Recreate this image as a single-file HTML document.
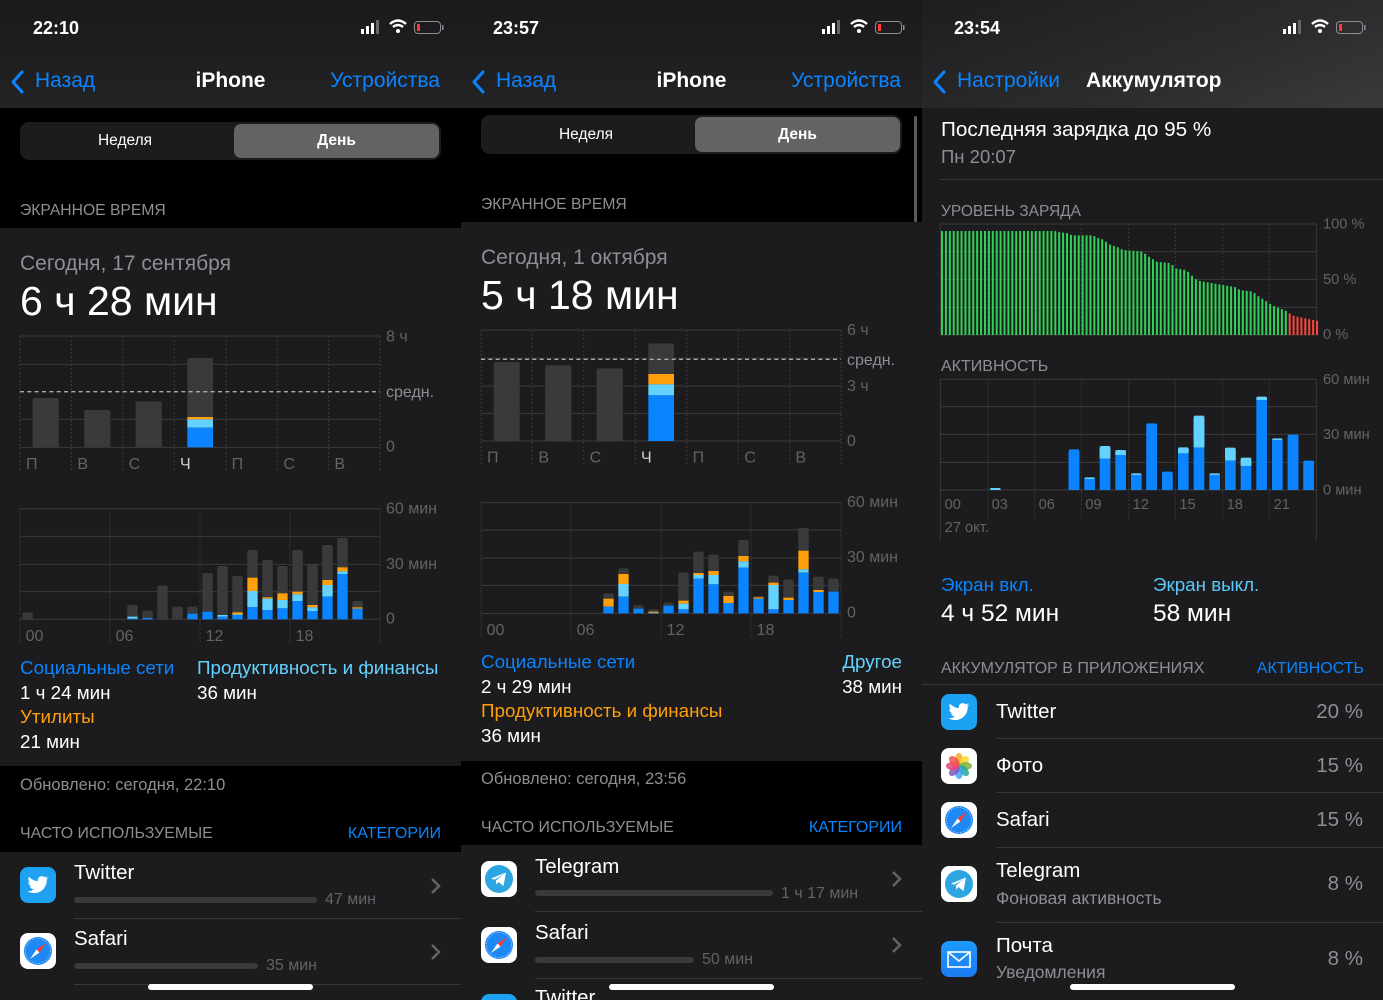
<!DOCTYPE html>
<html><head><meta charset="utf-8">
<style>
*{margin:0;padding:0;box-sizing:border-box}
body{width:1383px;height:1000px;overflow:hidden;background:#000;font-family:"Liberation Sans",sans-serif;color:#fff;position:relative}
.p{position:absolute;top:0;height:1000px;width:461px;overflow:hidden;background:#000}
.a{position:absolute;white-space:nowrap;line-height:1}
.g{color:#8e8e93}.b{color:#0a84ff}.lb{color:#64d2ff}.o{color:#ff9f0a}
.box{position:absolute}
svg text{font-family:"Liberation Sans",sans-serif}
</style></head><body>

<!-- PANEL 1 -->
<div class="p" style="left:0">
  <div class="box" style="left:0;top:0;width:461px;height:108px;background:linear-gradient(#1a1a1c,#232325)"></div>
  <div class="a" style="left:33px;top:19px;font-size:18px;font-weight:bold">22:10</div>
  <svg class="box" style="left:358px;top:18px" width="90" height="20" viewBox="0 0 90 20">
    <rect x="3" y="11" width="3" height="5" fill="#fff"/><rect x="8" y="8" width="3" height="8" fill="#fff"/><rect x="13" y="5" width="3" height="11" fill="#fff"/><rect x="18" y="2" width="3" height="14" fill="#666"/>
    <path d="M32 6 Q40 -1 48 6" stroke="#fff" stroke-width="2.4" fill="none"/><path d="M35 9 Q40 5 45 9" stroke="#fff" stroke-width="2.4" fill="none"/><circle cx="40" cy="13" r="2" fill="#fff"/>
    <rect x="56.5" y="3.5" width="26" height="12" rx="3.5" fill="none" stroke="#8e8e93"/><rect x="59" y="6" width="3" height="7" fill="#ff3b30"/><rect x="84" y="7" width="1.5" height="5" fill="#8e8e93"/>
  </svg>
  <svg class="box" style="left:10px;top:70px" width="16" height="24"><polyline points="12,2 3,12 12,22" stroke="#0a84ff" stroke-width="3" fill="none" stroke-linecap="round" stroke-linejoin="round"/></svg>
  <div class="a b" style="left:35px;top:70px;font-size:21px">Назад</div>
  <div class="a" style="left:0;width:461px;text-align:center;top:70px;font-size:21px;font-weight:bold">iPhone</div>
  <div class="a b" style="right:21px;top:70px;font-size:21px">Устройства</div>
  <div class="box" style="left:20px;top:122px;width:421px;height:38px;background:#1c1c1e;border-radius:9px"></div>
  <div class="box" style="left:234px;top:124px;width:205px;height:34px;background:#636366;border-radius:7px"></div>
  <div class="a" style="left:20px;width:210px;text-align:center;top:133px;font-size:15.5px">Неделя</div>
  <div class="a" style="left:234px;width:205px;text-align:center;top:133px;font-size:15.5px;font-weight:bold">День</div>
  <div class="a g" style="left:20px;top:203px;font-size:15.7px">ЭКРАННОЕ ВРЕМЯ</div>
  <div class="box" style="left:0;top:228px;width:461px;height:538px;background:#1c1c1e"></div>
  <div class="a g" style="left:20px;top:253px;font-size:21px">Сегодня, 17 сентября</div>
  <div class="a" style="left:20px;top:281px;font-size:41px">6 ч 28 мин</div>
  <svg class="box" style="left:0;top:330px" width="461" height="320" viewBox="0 0 1383 960" font-size="48" fill="#636366">
    <g id="c1"></g>
    <text x="1158" y="22" dominant-baseline="middle">8 ч</text>
    <text x="1158" y="188" dominant-baseline="middle" fill="#8e8e93">средн.</text>
    <text x="1158" y="352" dominant-baseline="middle">0</text>
    <text x="78" y="405" dominant-baseline="middle">П</text><text x="232" y="405" dominant-baseline="middle">В</text><text x="386" y="405" dominant-baseline="middle">С</text><text x="540" y="405" dominant-baseline="middle" fill="#d0d0d0">Ч</text><text x="695" y="405" dominant-baseline="middle">П</text><text x="850" y="405" dominant-baseline="middle">С</text><text x="1003" y="405" dominant-baseline="middle">В</text>
    <text x="1158" y="538" dominant-baseline="middle">60 мин</text>
    <text x="1158" y="704" dominant-baseline="middle">30 мин</text>
    <text x="1158" y="868" dominant-baseline="middle">0</text>
    <text x="77" y="920" dominant-baseline="middle">00</text><text x="347" y="920" dominant-baseline="middle">06</text><text x="617" y="920" dominant-baseline="middle">12</text><text x="887" y="920" dominant-baseline="middle">18</text>
  </svg>
  <div class="a b" style="left:20px;top:659px;font-size:18.8px">Социальные сети</div>
  <div class="a lb" style="left:197px;top:659px;font-size:18.8px">Продуктивность и финансы</div>
  <div class="a" style="left:20px;top:684px;font-size:18.8px">1 ч 24 мин</div>
  <div class="a" style="left:197px;top:684px;font-size:18.8px">36 мин</div>
  <div class="a o" style="left:20px;top:708px;font-size:18.8px">Утилиты</div>
  <div class="a" style="left:20px;top:733px;font-size:18.8px">21 мин</div>
  <div class="a g" style="left:20px;top:777px;font-size:16.5px">Обновлено: сегодня, 22:10</div>
  <div class="a g" style="left:20px;top:826px;font-size:15.9px">ЧАСТО ИСПОЛЬЗУЕМЫЕ</div>
  <div class="a b" style="right:20px;top:826px;font-size:16px">КАТЕГОРИИ</div>
  <div class="box" style="left:0;top:852px;width:461px;height:148px;background:#1c1c1e"></div>
  <div class="box ic" data-i="tw" style="left:20px;top:867px"></div>
  <div class="a" style="left:74px;top:863px;font-size:20.5px">Twitter</div>
  <div class="box" style="left:74px;top:897px;width:243px;height:6px;border-radius:3px;background:#3a3a3c"></div>
  <div class="a" style="left:325px;top:892px;font-size:16px;color:#636366">47 мин</div>
  <div class="box" style="left:74px;top:918px;width:387px;height:1px;background:#38383a"></div>
  <div class="box ic" data-i="sf" style="left:20px;top:933px"></div>
  <div class="a" style="left:74px;top:929px;font-size:20.5px">Safari</div>
  <div class="box" style="left:74px;top:963px;width:184px;height:6px;border-radius:3px;background:#3a3a3c"></div>
  <div class="a" style="left:266px;top:958px;font-size:16px;color:#636366">35 мин</div>
  <div class="box" style="left:74px;top:984px;width:387px;height:1px;background:#38383a"></div>
  <svg class="box chev" style="left:430px;top:877px" width="12" height="18"><polyline points="2,2 9,9 2,16" stroke="#636366" stroke-width="2.5" fill="none"/></svg>
  <svg class="box chev" style="left:430px;top:943px" width="12" height="18"><polyline points="2,2 9,9 2,16" stroke="#636366" stroke-width="2.5" fill="none"/></svg>
  <div class="box" style="left:148px;top:984px;width:165px;height:6px;border-radius:3px;background:#fff"></div>
</div>

<!-- PANEL 2 -->
<div class="p" style="left:461px">
  <div class="box" style="left:0;top:0;width:461px;height:108px;background:linear-gradient(#1a1a1c,#232325)"></div>
  <div class="a" style="left:32px;top:19px;font-size:18px;font-weight:bold">23:57</div>
  <svg class="box" style="left:358px;top:18px" width="90" height="20" viewBox="0 0 90 20">
    <rect x="3" y="11" width="3" height="5" fill="#fff"/><rect x="8" y="8" width="3" height="8" fill="#fff"/><rect x="13" y="5" width="3" height="11" fill="#fff"/><rect x="18" y="2" width="3" height="14" fill="#666"/>
    <path d="M32 6 Q40 -1 48 6" stroke="#fff" stroke-width="2.4" fill="none"/><path d="M35 9 Q40 5 45 9" stroke="#fff" stroke-width="2.4" fill="none"/><circle cx="40" cy="13" r="2" fill="#fff"/>
    <rect x="56.5" y="3.5" width="26" height="12" rx="3.5" fill="none" stroke="#8e8e93"/><rect x="59" y="6" width="3" height="7" fill="#ff3b30"/><rect x="84" y="7" width="1.5" height="5" fill="#8e8e93"/>
  </svg>
  <svg class="box" style="left:10px;top:70px" width="16" height="24"><polyline points="12,2 3,12 12,22" stroke="#0a84ff" stroke-width="3" fill="none" stroke-linecap="round" stroke-linejoin="round"/></svg>
  <div class="a b" style="left:35px;top:70px;font-size:21px">Назад</div>
  <div class="a" style="left:0;width:461px;text-align:center;top:70px;font-size:21px;font-weight:bold">iPhone</div>
  <div class="a b" style="right:21px;top:70px;font-size:21px">Устройства</div>
  <div class="box" style="left:20px;top:115px;width:421px;height:39px;background:#1c1c1e;border-radius:9px"></div>
  <div class="box" style="left:234px;top:117px;width:205px;height:35px;background:#636366;border-radius:7px"></div>
  <div class="a" style="left:20px;width:210px;text-align:center;top:127px;font-size:15.5px">Неделя</div>
  <div class="a" style="left:234px;width:205px;text-align:center;top:127px;font-size:15.5px;font-weight:bold">День</div>
  <div class="box" style="left:453px;top:116px;width:3px;height:205px;border-radius:2px;background:#5a5a5e"></div>
  <div class="a g" style="left:20px;top:197px;font-size:15.7px">ЭКРАННОЕ ВРЕМЯ</div>
  <div class="box" style="left:0;top:222px;width:461px;height:539px;background:#1c1c1e"></div>
  <div class="a g" style="left:20px;top:247px;font-size:21px">Сегодня, 1 октября</div>
  <div class="a" style="left:20px;top:275px;font-size:41px">5 ч 18 мин</div>
  <svg class="box" style="left:0;top:320px" width="461" height="320" viewBox="0 0 1383 960" font-size="48" fill="#636366">
    <g id="c2"></g>
    <text x="1158" y="33" dominant-baseline="middle">6 ч</text>
    <text x="1158" y="123" dominant-baseline="middle" fill="#8e8e93">средн.</text>
    <text x="1158" y="200" dominant-baseline="middle">3 ч</text>
    <text x="1158" y="365" dominant-baseline="middle">0</text>
    <text x="78" y="415" dominant-baseline="middle">П</text><text x="232" y="415" dominant-baseline="middle">В</text><text x="386" y="415" dominant-baseline="middle">С</text><text x="540" y="415" dominant-baseline="middle" fill="#d0d0d0">Ч</text><text x="695" y="415" dominant-baseline="middle">П</text><text x="850" y="415" dominant-baseline="middle">С</text><text x="1003" y="415" dominant-baseline="middle">В</text>
    <text x="1158" y="548" dominant-baseline="middle">60 мин</text>
    <text x="1158" y="714" dominant-baseline="middle">30 мин</text>
    <text x="1158" y="880" dominant-baseline="middle">0</text>
    <text x="77" y="932" dominant-baseline="middle">00</text><text x="347" y="932" dominant-baseline="middle">06</text><text x="617" y="932" dominant-baseline="middle">12</text><text x="887" y="932" dominant-baseline="middle">18</text>
  </svg>
  <div class="a b" style="left:20px;top:653px;font-size:18.8px">Социальные сети</div>
  <div class="a lb" style="right:20px;top:653px;font-size:18.8px">Другое</div>
  <div class="a" style="left:20px;top:678px;font-size:18.8px">2 ч 29 мин</div>
  <div class="a" style="right:20px;top:678px;font-size:18.8px">38 мин</div>
  <div class="a o" style="left:20px;top:702px;font-size:18.8px">Продуктивность и финансы</div>
  <div class="a" style="left:20px;top:727px;font-size:18.8px">36 мин</div>
  <div class="a g" style="left:20px;top:771px;font-size:16.5px">Обновлено: сегодня, 23:56</div>
  <div class="a g" style="left:20px;top:820px;font-size:15.9px">ЧАСТО ИСПОЛЬЗУЕМЫЕ</div>
  <div class="a b" style="right:20px;top:820px;font-size:16px">КАТЕГОРИИ</div>
  <div class="box" style="left:0;top:845px;width:461px;height:155px;background:#1c1c1e"></div>
  <div class="box ic" data-i="tg" style="left:20px;top:861px"></div>
  <div class="a" style="left:74px;top:857px;font-size:20.5px">Telegram</div>
  <div class="box" style="left:74px;top:890px;width:238px;height:6px;border-radius:3px;background:#3a3a3c"></div>
  <div class="a" style="left:320px;top:886px;font-size:16px;color:#636366">1 ч 17 мин</div>
  <div class="box" style="left:74px;top:911px;width:387px;height:1px;background:#38383a"></div>
  <div class="box ic" data-i="sf" style="left:20px;top:927px"></div>
  <div class="a" style="left:74px;top:923px;font-size:20.5px">Safari</div>
  <div class="box" style="left:74px;top:957px;width:159px;height:6px;border-radius:3px;background:#3a3a3c"></div>
  <div class="a" style="left:241px;top:952px;font-size:16px;color:#636366">50 мин</div>
  <div class="box" style="left:74px;top:978px;width:387px;height:1px;background:#38383a"></div>
  <div class="box ic" data-i="tw" style="left:20px;top:994px"></div>
  <div class="a" style="left:74px;top:988px;font-size:20.5px">Twitter</div>
  <svg class="box" style="left:430px;top:870px" width="12" height="18"><polyline points="2,2 9,9 2,16" stroke="#636366" stroke-width="2.5" fill="none"/></svg>
  <svg class="box" style="left:430px;top:936px" width="12" height="18"><polyline points="2,2 9,9 2,16" stroke="#636366" stroke-width="2.5" fill="none"/></svg>
  <div class="box" style="left:148px;top:984px;width:165px;height:6px;border-radius:3px;background:#fff"></div>
</div>

<!-- PANEL 3 -->
<div class="p" style="left:922px;background:#1c1c1e">
  <div class="box" style="left:0;top:0;width:461px;height:108px;background:linear-gradient(160deg,#1e1e20 0%,#2c2c2e 60%,#3a3a3c 100%)"></div>
  <div class="a" style="left:32px;top:19px;font-size:18px;font-weight:bold">23:54</div>
  <svg class="box" style="left:358px;top:18px" width="90" height="20" viewBox="0 0 90 20">
    <rect x="3" y="11" width="3" height="5" fill="#fff"/><rect x="8" y="8" width="3" height="8" fill="#fff"/><rect x="13" y="5" width="3" height="11" fill="#fff"/><rect x="18" y="2" width="3" height="14" fill="#666"/>
    <path d="M32 6 Q40 -1 48 6" stroke="#fff" stroke-width="2.4" fill="none"/><path d="M35 9 Q40 5 45 9" stroke="#fff" stroke-width="2.4" fill="none"/><circle cx="40" cy="13" r="2" fill="#fff"/>
    <rect x="56.5" y="3.5" width="26" height="12" rx="3.5" fill="none" stroke="#8e8e93"/><rect x="59" y="6" width="3" height="7" fill="#ff3b30"/><rect x="84" y="7" width="1.5" height="5" fill="#8e8e93"/>
  </svg>
  <svg class="box" style="left:10px;top:70px" width="16" height="24"><polyline points="12,2 3,12 12,22" stroke="#0a84ff" stroke-width="3" fill="none" stroke-linecap="round" stroke-linejoin="round"/></svg>
  <div class="a b" style="left:35px;top:70px;font-size:21px">Настройки</div>
  <div class="a" style="left:164px;top:70px;font-size:21px;font-weight:bold">Аккумулятор</div>
  <div class="a" style="left:19px;top:120px;font-size:20.7px">Последняя зарядка до 95 %</div>
  <div class="a g" style="left:19px;top:148px;font-size:18.5px">Пн 20:07</div>
  <div class="box" style="left:18px;top:179px;width:443px;height:1px;background:#38383a"></div>
  <div class="a g" style="left:19px;top:204px;font-size:15.5px">УРОВЕНЬ ЗАРЯДА</div>
  <div class="a g" style="left:19px;top:359px;font-size:16px">АКТИВНОСТЬ</div>
  <svg class="box" style="left:0;top:210px" width="461" height="330" viewBox="0 0 1383 990" font-size="44" fill="#636366">
    <g id="c3"></g>
    <text x="1203" y="44" dominant-baseline="middle">100 %</text>
    <text x="1203" y="210" dominant-baseline="middle">50 %</text>
    <text x="1203" y="376" dominant-baseline="middle">0 %</text>
    <text x="1203" y="510" dominant-baseline="middle">60 мин</text>
    <text x="1203" y="675" dominant-baseline="middle">30 мин</text>
    <text x="1203" y="842" dominant-baseline="middle">0 мин</text>
    <text x="68" y="886" dominant-baseline="middle">00</text><text x="209" y="886" dominant-baseline="middle">03</text><text x="350" y="886" dominant-baseline="middle">06</text><text x="490" y="886" dominant-baseline="middle">09</text><text x="632" y="886" dominant-baseline="middle">12</text><text x="772" y="886" dominant-baseline="middle">15</text><text x="914" y="886" dominant-baseline="middle">18</text><text x="1055" y="886" dominant-baseline="middle">21</text>
    <text x="68" y="954" dominant-baseline="middle">27 окт.</text>
  </svg>
  <div class="a b" style="left:19px;top:576px;font-size:18.8px">Экран вкл.</div>
  <div class="a lb" style="left:231px;top:576px;font-size:18.8px;color:#5ac8fa">Экран выкл.</div>
  <div class="a" style="left:19px;top:602px;font-size:24.5px">4 ч 52 мин</div>
  <div class="a" style="left:231px;top:602px;font-size:24.5px">58 мин</div>
  <div class="a g" style="left:19px;top:661px;font-size:16px">АККУМУЛЯТОР В ПРИЛОЖЕНИЯХ</div>
  <div class="a b" style="right:19px;top:661px;font-size:16px">АКТИВНОСТЬ</div>
  <div class="box" style="left:0;top:684px;width:461px;height:1px;background:#38383a"></div>
  <div class="box ic" data-i="tw" style="left:19px;top:694px"></div>
  <div class="a" style="left:74px;top:702px;font-size:20.5px">Twitter</div>
  <div class="a g" style="right:20px;top:702px;font-size:20.5px">20 %</div>
  <div class="box" style="left:74px;top:738px;width:387px;height:1px;background:#38383a"></div>
  <div class="box ic" data-i="ph" style="left:19px;top:748px"></div>
  <div class="a" style="left:74px;top:756px;font-size:20.5px">Фото</div>
  <div class="a g" style="right:20px;top:756px;font-size:20.5px">15 %</div>
  <div class="box" style="left:74px;top:792px;width:387px;height:1px;background:#38383a"></div>
  <div class="box ic" data-i="sf" style="left:19px;top:802px"></div>
  <div class="a" style="left:74px;top:810px;font-size:20.5px">Safari</div>
  <div class="a g" style="right:20px;top:810px;font-size:20.5px">15 %</div>
  <div class="box" style="left:74px;top:847px;width:387px;height:1px;background:#38383a"></div>
  <div class="box ic" data-i="tg" style="left:19px;top:866px"></div>
  <div class="a" style="left:74px;top:861px;font-size:20.5px">Telegram</div>
  <div class="a g" style="left:74px;top:890px;font-size:17.5px">Фоновая активность</div>
  <div class="a g" style="right:20px;top:874px;font-size:20.5px">8 %</div>
  <div class="box" style="left:74px;top:922px;width:387px;height:1px;background:#38383a"></div>
  <div class="box ic" data-i="ml" style="left:19px;top:941px"></div>
  <div class="a" style="left:74px;top:936px;font-size:20.5px">Почта</div>
  <div class="a g" style="left:74px;top:964px;font-size:17.5px">Уведомления</div>
  <div class="a g" style="right:20px;top:949px;font-size:20.5px">8 %</div>
  <div class="box" style="left:148px;top:984px;width:165px;height:6px;border-radius:3px;background:#fff"></div>
</div>

<script>
var NS='http://www.w3.org/2000/svg';
function el(g,t,a){var e=document.createElementNS(NS,t);for(var k in a)e.setAttribute(k,a[k]);g.appendChild(e);return e;}
function line(g,x1,y1,x2,y2,dash,c,w){var a={x1:x1,y1:y1,x2:x2,y2:y2,stroke:c||'#3a3a3c','stroke-width':w||3};if(dash)a['stroke-dasharray']=dash;el(g,'line',a);}
var COL=['#3a3a3c','#ff9f0a','#64d2ff','#0a84ff'];
function stack(g,x,w,tops,bottom,cols){
  cols=cols||COL;var first=true;
  for(var i=0;i<tops.length;i++){var t=tops[i],b=(i+1<tops.length)?tops[i+1]:bottom;
    if(b>t){ if(first){el(g,'rect',{x:x,y:t,width:w,height:b-t,rx:5,fill:cols[i]}); if(b-t>6)el(g,'rect',{x:x,y:t+6,width:w,height:b-t-6,fill:cols[i]});first=false;}
      else el(g,'rect',{x:x,y:t,width:w,height:b-t,fill:cols[i]});}}
}
(function(){var g=document.getElementById('c1');
 [18,103,268,352].forEach(function(y){line(g,60,y,1140,y);});
 [60,214,368,523,678,832,986,1140].forEach(function(x){line(g,x,18,x,425,'6,6');});
 [536,619,703,785,868].forEach(function(y){line(g,60,y,1140,y);});
 [60,330,600,870,1140].forEach(function(x){line(g,x,536,x,940,'6,6');});
 stack(g,98,78,[204],352);stack(g,253,78,[240],352);stack(g,407,78,[214],352);
 stack(g,562,77,[84,261,268,293],352);
 line(g,60,185,1140,185,'12,10','#aaa',4);
 var d={0:[847,868,868,868],7:[825,860,860,866],8:[842,864,864,864],9:[767,868,868,868],10:[830,868,868,868],11:[830,851,851,851],12:[729,845,845,845],13:[708,855,855,860],14:[738,847,853,855],15:[660,743,783,831],16:[690,802,806,840],17:[708,790,810,835],18:[660,785,793,813],19:[703,825,832,843],20:[645,750,765,800],21:[624,712,724,732],22:[813,832,836,836]};
 for(var h in d)stack(g,67+45*h,31,d[h],868);
})();
(function(){var g=document.getElementById('c2');
 [30,115,198,280,363].forEach(function(y){line(g,60,y,1140,y);});
 [60,214,368,523,678,832,986,1140].forEach(function(x){line(g,x,30,x,437,'6,6');});
 [548,630,714,796,880].forEach(function(y){line(g,60,y,1140,y);});
 [60,330,600,870,1140].forEach(function(x){line(g,x,548,x,950,'6,6');});
 stack(g,98,78,[126],363);stack(g,253,78,[136],363);stack(g,407,78,[145],363);
 stack(g,562,77,[70,162,193,226],363);
 line(g,60,118,1140,118,'12,10','#aaa',4);
 var d={8:[820,836,860,860],9:[745,762,792,830],10:[856,866,866,866],11:[868,875,878,880],12:[848,857,857,857],13:[757,842,851,868],14:[695,759,765,776],15:[704,753,765,793],16:[815,828,849,849],17:[660,708,724,743],18:[828,832,836,836],19:[767,788,795,868],20:[779,833,840,840],21:[624,692,748,758],22:[770,810,816,816],23:[775,815,815,815]};
 for(var h in d)stack(g,67+45*h,31,d[h],880);
})();
(function(){var g=document.getElementById('c3');
 [42,125,208,292,375].forEach(function(y){line(g,55,y,1183,y);});
 [508,590,673,757,840].forEach(function(y){line(g,55,y,1183,y);});
 [197,338,478,620,760,902,1042].forEach(function(x){line(g,x,42,x,375,'6,6');line(g,x,508,x,930,'6,6');});
 line(g,55,42,55,375);line(g,1183,42,1183,375);line(g,55,508,55,990);line(g,1183,508,1183,990);
 var kp=[[57,63],[395,63],[405,66],[440,70],[445,76],[510,76],[520,82],[545,90],[555,102],[585,112],[600,120],[660,125],[670,135],[690,148],[700,155],[745,160],[755,175],[790,180],[800,190],[815,205],[825,212],[900,225],[940,232],[950,240],[990,245],[1000,255],[1040,280],[1045,285],[1095,305],[1105,316],[1181,332]];
 function lv(x){for(var i=0;i<kp.length-1;i++){if(x<=kp[i+1][0]){var a=kp[i],b=kp[i+1];return a[1]+(b[1]-a[1])*(x-a[0])/(b[0]-a[0]);}}return 332;}
 for(var i=0;i<97;i++){var x=57+i*11.72;var t=lv(x);el(g,'rect',{x:x,y:t,width:6,height:375-t,fill:x>=1100?'#ff453a':'#30d158'});}
 var a=[[204,834,840],[440,718,718],[487,802,807],[533,708,746],[580,720,735],[627,790,795],[673,640,640],[720,785,785],[768,712,730],[815,617,713],[862,790,795],[909,713,752],[956,743,768],[1003,560,570],[1050,685,690],[1097,674,674],[1144,752,752]];
 a.forEach(function(b){stack(g,b[0],32,[b[1],b[2]],840,['#64d2ff','#0a84ff']);});
})();
var IC={
 tw:'<rect width="36" height="36" rx="8" fill="#1da1f2"/><path d="M28 11c-.8.4-1.6.6-2.5.7.9-.5 1.6-1.4 1.9-2.4-.8.5-1.8.9-2.7 1-1.7-1.8-4.7-1.6-6.2.4-.7 1-.9 2.2-.6 3.4-3.5-.2-6.7-1.8-8.9-4.5-1.2 2-.6 4.6 1.3 5.9-.7 0-1.4-.2-2-.5 0 2.1 1.5 3.9 3.5 4.3-.6.2-1.3.2-2 .1.6 1.8 2.2 3 4.1 3-1.8 1.4-4.1 2.1-6.4 1.8 8.8 5.2 19.5-.8 19.3-11.8.9-.6 1.6-1.4 2.2-2.3z" fill="#fff"/>',
 sf:'<rect width="36" height="36" rx="8" fill="#fff"/><circle cx="18" cy="18" r="14" fill="#1e88f5"/><circle cx="18" cy="18" r="12.5" fill="none" stroke="#fff" stroke-width=".6" stroke-dasharray="1,1.5"/><polygon points="26,10 19.5,19.5 16.5,16.5" fill="#ff3b30"/><polygon points="10,26 16.5,16.5 19.5,19.5" fill="#fff"/>',
 tg:'<rect width="36" height="36" rx="8" fill="#fff"/><circle cx="18" cy="18" r="14" fill="#2ca5e0"/><path d="M10 17.5 L25 11.5 L22.5 25 L17.5 21 L15 23.5 L15 19.5 L22 13.5 L13.5 18.8z" fill="#fff"/>',
 ml:'<defs><linearGradient id="mg" x1="0" y1="0" x2="0" y2="1"><stop offset="0" stop-color="#1e9bff"/><stop offset="1" stop-color="#1a7cf0"/></linearGradient></defs><rect width="36" height="36" rx="8" fill="url(#mg)"/><rect x="7" y="11" width="22" height="15" fill="none" stroke="#fff" stroke-width="1.6"/><polyline points="7,11 18,20 29,11" fill="none" stroke="#fff" stroke-width="1.6"/>',
 ph:'<rect width="36" height="36" rx="8" fill="#fff"/>'
};
(function(){var cs=['#f9a825','#fdd835','#7cb342','#26a69a','#42a5f5','#7e57c2','#ec407a','#ef5350'];var s='';
 for(var i=0;i<8;i++){var ang=i*45*Math.PI/180;var cx=18+6.5*Math.sin(ang),cy=18-6.5*Math.cos(ang);s+='<ellipse cx="'+cx+'" cy="'+cy+'" rx="4" ry="6.5" transform="rotate('+(i*45)+' '+cx+' '+cy+')" fill="'+cs[i]+'" opacity=".85"/>';}
 IC.ph+=s;})();
document.querySelectorAll('.ic').forEach(function(d){d.innerHTML='<svg width="36" height="36" viewBox="0 0 36 36">'+IC[d.getAttribute('data-i')]+'</svg>';});
</script>
</body></html>
